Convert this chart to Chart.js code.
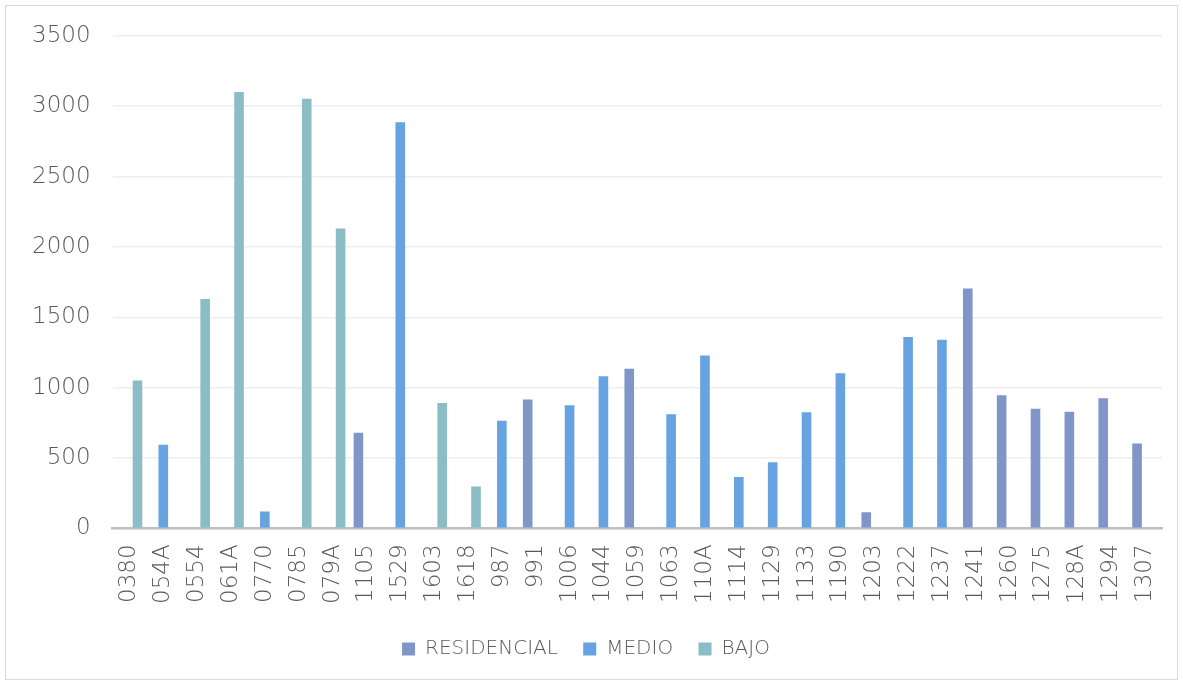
<!DOCTYPE html>
<html>
<head>
<meta charset="utf-8">
<script src="https://cdn.jsdelivr.net/npm/chart.js@4"></script>
<style>
    html, body { margin: 0; padding: 0; background: #fff; }
    #frame {
        position: absolute; left: 5px; top: 5px;
        width: 1171px; height: 673px;
        border: 1.5px solid #d9d9d9;
    }
    #wrap {
        position: absolute; left: 0; top: 0;
        width: 1183px; height: 684px;
    }
    #wrap canvas { display: block; }
</style>
</head>
<body>
<div id="frame"></div>
<div id="wrap"><canvas id="chart"></canvas></div>
<script>
// categories along the x axis
const categories = ['0380', '054A', '0554', '061A', '0770', '0785', '079A', '1105', '1529', '1603',
    '1618', '987', '991', '1006', '1044', '1059', '1063', '110A', '1114', '1129',
    '1133', '1190', '1203', '1222', '1237', '1241', '1260', '1275', '128A', '1294', '1307'];

// series values (null where the category has no bar)
const residencial = [null, null, null, null, null, null, null, 680, null, null,
    null, null, 915, null, null, 1135, null, null, null, null,
    null, null, 115, null, null, 1705, 945, 850, 828, 925, 603];
const medio = [null, 595, null, null, 120, null, null, null, 2885, null,
    null, 765, null, 875, 1080, null, 810, 1228, 365, 470,
    825, 1102, null, 1360, 1340, null, null, null, null, null, null];
const bajo = [1050, null, 1630, 3100, null, 3052, 2130, null, null, 890,
    298, null, null, null, null, null, null, null, null, null,
    null, null, null, null, null, null, null, null, null, null, null];

const seriesNames = ['RESIDENCIAL', 'MEDIO', 'BAJO'];
const seriesColors = ['#8096c8', '#66a3e0', '#8abdc6'];

const yTicks = [0, 500, 1000, 1500, 2000, 2500, 3000, 3500];

const textColor = '#595959';
const fontFamily = '"DejaVu Sans", sans-serif';

Chart.defaults.font.family = fontFamily;
Chart.defaults.color = textColor;

const ctx = document.getElementById('chart');
new Chart(ctx, {
    type: 'bar',
    data: {
        labels: categories,
        datasets: [residencial, medio, bajo].map((values, i) => ({
            label: seriesNames[i],
            data: values,
            backgroundColor: seriesColors[i],
            borderWidth: 0,
            categoryPercentage: 0.71,
            barPercentage: 1.2
        }))
    },
    options: {
        responsive: true,
        maintainAspectRatio: false,
        animation: false,
        layout: { padding: { top: 13, right: 21, left: 10, bottom: 15 } },
        plugins: {
            legend: {
                position: 'bottom',
                labels: {
                    boxWidth: 13,
                    boxHeight: 13,
                    padding: 19,
                    color: textColor,
                    font: { size: 20, weight: 200 },
                    // a little extra room after the first two entries
                    generateLabels: (chart) => Chart.defaults.plugins.legend.labels.generateLabels(chart)
                        .map((item, i, all) => ({ ...item, text: i < all.length - 1 ? item.text + ' ' : item.text }))
                }
            },
            tooltip: { enabled: false }
        },
        scales: {
            x: {
                grid: { display: false, drawTicks: false },
                border: { color: '#bfbfbf', width: 2.5 },
                // rotated labels would otherwise reserve extra room on the right
                afterFit: (scale) => { scale.paddingRight = 0; },
                ticks: {
                    autoSkip: false,
                    minRotation: 90,
                    maxRotation: 90,
                    padding: 16,
                    color: textColor,
                    font: { size: 23, weight: 200 }
                }
            },
            y: {
                min: 0,
                max: 3500,
                afterBuildTicks: (axis) => { axis.ticks = yTicks.map(v => ({ value: v })); },
                grid: { color: '#eeeeee', lineWidth: 1.5, drawTicks: false },
                border: { display: false },
                ticks: {
                    padding: 22,
                    color: textColor,
                    font: { size: 23, weight: 200 },
                    callback: (value) => String(value)
                }
            }
        }
    }
});
</script>
</body>
</html>
